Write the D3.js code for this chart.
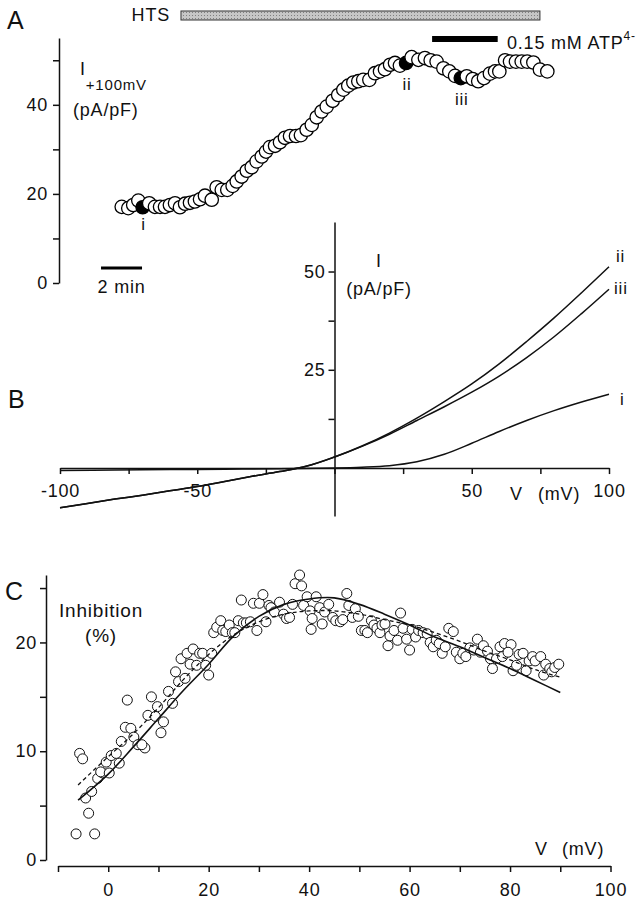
<!DOCTYPE html>
<html>
<head>
<meta charset="utf-8">
<script src="https://cdn.jsdelivr.net/npm/d3@7"></script>
<style>
body { margin: 0; background: #fff; }
svg text { font-family: "Liberation Sans", Arial, sans-serif; fill: #111; letter-spacing: 0.8px; }
</style>
</head>
<body>
<svg id="fig" width="643" height="900"></svg>
<script>
// ---- panel A : current at +100 mV vs time ----
var timeMin = [3.06,3.38,3.62,3.87,4.08,4.40,4.68,4.93,5.17,5.41,5.66,5.90,6.15,6.39,6.63,6.88,7.12,7.45,7.69,7.94,
  8.21,8.47,8.67,8.91,9.16,9.40,9.64,9.89,10.10,10.29,10.54,10.78,11.02,11.27,11.56,11.80,12.08,12.33,12.57,12.81,
  13.06,13.35,13.62,13.87,14.11,14.36,14.60,14.84,15.14,15.41,15.66,15.90,16.15,16.39,16.63,16.93,17.20,17.53,17.85,18.13,
  18.42,18.75,19.04,19.32,19.60,19.89,20.18,20.45,20.73,21.02,21.27,21.48,21.76,22.00,22.29,22.57,22.84,23.14,23.46,23.82];
var iPlus100 = [17.1,16.8,17.5,18.5,17.0,17.9,17.1,17.1,17.1,17.5,17.9,17.0,17.8,18.0,18.3,18.8,19.6,18.7,21.5,20.9,
  20.9,21.8,22.8,23.9,25.2,26.0,27.3,28.4,29.5,30.5,30.8,31.6,32.6,33.0,33.0,33.2,34.4,35.5,37.2,38.5,
  39.6,40.9,42.2,43.4,44.3,45.0,45.3,45.6,45.6,47.1,47.5,48.0,49.0,49.4,48.8,49.4,50.7,50.1,50.5,50.0,
  49.7,48.2,47.5,46.5,46.0,46.4,45.8,45.3,46.0,47.0,47.5,47.5,50.0,49.7,49.7,49.7,49.7,49.5,47.9,47.5];
var markIdx = [4, 55, 64];
var markLabels = ["i", "ii", "iii"];
var htsOn = [5.95, 23.46];   // min
var atpOn = [18.2, 21.4];    // min
var scaleBar = [2.05, 4.05]; // 2 min
var ticksA = [0, 10, 20, 30, 40, 50];

// ---- panel B : I-V curves ----
var vB = [-100,-90,-80,-70,-60,-50,-40,-30,-20,-10,0,10,20,30,40,50,60,70,80,90,100];
var curveII  = [-10.1,-9.0,-7.9,-6.9,-5.8,-4.7,-3.4,-2.1,-0.9,0.5,2.8,5.6,8.9,12.7,16.9,21.4,26.5,32.2,38.2,44.6,51.2];
var curveIII = [-10.1,-9.0,-7.9,-6.9,-5.8,-4.7,-3.4,-2.1,-0.9,0.5,2.8,5.5,8.6,12.1,15.6,19.3,23.4,28.1,33.4,39.3,45.5];
var vBi = [-100,-80,-60,-40,-20,0,10,20,30,40,50,60,70,80,90,100];
var curveI = [-0.6,-0.5,-0.4,-0.3,-0.2,0.0,0.2,0.6,1.6,3.5,6.3,9.3,12.1,14.6,16.8,18.8];
var ticksBx = [-100,-75,-50,-25,0,25,50,75,100];
var ticksBy = [12.5, 25, 37.5, 50];

// ---- panel C : inhibition vs voltage ----
var vC = [-6.4,-2.7,-3.9,-4.5,-3.3,-5.7,-5.1,-2.1,-1.1,-1.5,-0.4,0.2,0.6,1.6,2.2,2.6,3.4,3.8,4.5,5.1,
  5.9,7.3,6.7,7.9,8.6,9.4,9.8,10.5,11.0,12.0,12.8,13.4,14.0,14.5,15.3,15.7,16.3,16.9,17.6,18.2,
  18.8,19.4,20.0,20.6,21.0,21.6,22.4,22.8,23.4,24.1,24.7,25.2,25.9,26.5,26.9,27.5,28.3,28.9,29.6,30.1,
  30.8,31.4,32.0,32.4,33.1,34.1,34.9,35.5,36.1,36.7,37.2,38.1,38.5,38.9,39.6,40.2,40.6,40.4,41.4,42.1,
  42.6,43.1,43.9,44.7,45.3,46.2,46.7,47.5,47.9,48.6,49.2,49.8,50.4,51.1,51.6,52.4,52.9,53.5,54.1,54.5,
  55.1,55.7,56.1,56.9,57.6,58.2,58.7,59.4,60.0,60.5,61.2,61.8,62.7,63.5,64.1,64.7,65.3,65.9,66.5,67.1,
  67.8,68.7,69.3,70.0,70.6,71.2,72.0,72.8,73.5,74.1,74.7,75.5,76.1,76.5,77.3,78.0,78.5,78.9,80.2,79.6,
  80.6,81.3,81.8,82.6,83.2,83.8,84.5,85.0,86.1,86.7,87.1,87.9,88.3,88.9,89.7];
var inhib = [2.4,2.4,4.3,5.7,6.3,9.8,9.3,7.5,8.0,8.1,9.0,8.0,9.6,9.8,8.9,10.9,12.2,14.7,12.1,11.3,
  10.6,10.3,10.6,13.3,15.0,13.2,14.1,11.7,12.7,15.5,14.4,17.3,16.4,18.5,16.7,19.0,18.0,19.4,17.9,19.0,
  19.0,17.9,17.0,19.0,20.9,21.4,22.0,21.1,21.0,21.6,20.9,20.9,22.0,23.9,21.8,21.8,21.9,23.6,21.1,23.6,
  24.4,21.9,23.4,23.2,22.8,23.7,22.6,22.2,22.3,23.5,25.4,26.2,25.2,23.4,24.2,22.9,22.2,21.2,24.2,23.2,
  21.7,22.8,23.5,22.3,22.0,21.9,22.1,24.5,23.4,22.3,23.1,22.4,21.1,21.1,20.9,22.0,21.6,21.3,20.9,21.6,
  21.7,19.7,20.6,21.1,20.2,22.7,21.3,20.3,19.3,21.2,20.5,21.1,20.9,20.8,20.0,19.6,20.2,19.9,19.0,19.6,
  21.3,21.0,19.1,18.5,19.0,18.7,19.5,19.3,20.3,19.1,19.7,19.2,18.5,17.6,18.5,19.6,18.7,19.9,19.8,19.1,
  17.4,17.9,18.9,19.0,17.4,18.3,18.7,18.3,18.7,17.0,18.0,17.6,17.3,17.7,18.0];
var vFit = [-6,0,5,10,15,20,25,30,35,40,45,50,55,60,65,70,75,80,85,90];
var fitSolid  = [5.5,7.9,10.4,13.0,15.6,18.0,20.6,22.4,23.5,24.0,24.1,23.5,22.6,21.6,20.5,19.6,18.6,17.6,16.5,15.4];
var fitDashed = [6.9,9.5,11.6,14.0,16.6,18.9,20.7,21.9,22.6,22.9,22.9,22.6,22.1,21.6,20.9,20.1,19.2,18.4,17.5,16.8];
var ticksCx = [-10,0,10,20,30,40,50,60,70,80,90,100];
var ticksCy = [0, 5, 10, 15, 20, 25];

var svg = d3.select("#fig");

function label(x, y, s, size, anchor) {
  return svg.append("text")
    .attr("x", x).attr("y", y)
    .attr("font-size", size)
    .attr("text-anchor", anchor || "start")
    .text(s);
}

function styleAxis(g) {
  g.selectAll("path, line").attr("stroke", "#111").attr("stroke-width", 1.5);
  g.selectAll("text").attr("font-size", 18).attr("fill", "#111")
    .attr("font-family", '"Liberation Sans", Arial, sans-serif');
}

// ================= A =================
var xA = d3.scaleLinear().domain([0, 25]).range([59, 571.5]);
var yA = d3.scaleLinear().domain([0, 55]).range([283, 38]);

label(7, 29, "A", 25);
label(170, 21, "HTS", 18, "end");

var defs = svg.append("defs");
var pat = defs.append("pattern").attr("id", "stip")
  .attr("width", 3).attr("height", 3).attr("patternUnits", "userSpaceOnUse");
pat.append("rect").attr("width", 3).attr("height", 3).attr("fill", "#c6c6c6");
pat.append("rect").attr("width", 1).attr("height", 1).attr("fill", "#808080");

svg.append("rect")
  .attr("x", xA(htsOn[0])).attr("y", 11)
  .attr("width", xA(htsOn[1]) - xA(htsOn[0])).attr("height", 9)
  .attr("fill", "url(#stip)").attr("stroke", "#333").attr("stroke-width", 1);

svg.append("rect")
  .attr("x", xA(atpOn[0])).attr("y", 36)
  .attr("width", xA(atpOn[1]) - xA(atpOn[0])).attr("height", 6)
  .attr("fill", "#000");

var atpTxt = label(507, 49, "0.15 mM ATP", 18);
atpTxt.append("tspan").attr("dy", -9).attr("font-size", 12).text("4-");

var gAy = svg.append("g").attr("transform", "translate(59,0)")
  .call(d3.axisLeft(yA).tickValues(ticksA).tickSize(6).tickSizeOuter(0).tickPadding(5)
    .tickFormat(function(d) { return d % 20 === 0 ? d : ""; }));
styleAxis(gAy);

var iLab = label(80, 75, "I", 18);
iLab.append("tspan").attr("dy", 15).attr("font-size", 15).text("+100mV");
label(73, 116, "(pA/pF)", 18);

svg.append("line")
  .attr("x1", xA(scaleBar[0])).attr("x2", xA(scaleBar[1]))
  .attr("y1", 268).attr("y2", 268)
  .attr("stroke", "#000").attr("stroke-width", 3);
label((xA(scaleBar[0]) + xA(scaleBar[1])) / 2, 293, "2 min", 18, "middle");

var ptsA = timeMin.map(function(t, i) { return { t: t, v: iPlus100[i], k: i }; });
svg.append("g").selectAll("circle").data(ptsA).enter().append("circle")
  .attr("cx", function(d) { return xA(d.t); })
  .attr("cy", function(d) { return yA(d.v); })
  .attr("r", 6.7)
  .attr("fill", function(d) { return markIdx.indexOf(d.k) >= 0 ? "#000" : "#fff"; })
  .attr("stroke", "#000").attr("stroke-width", 1.3);

markIdx.forEach(function(k, j) {
  label(xA(timeMin[k]) + 1, yA(iPlus100[k]) + (j === 0 ? 23 : 27), markLabels[j], 17, "middle");
});

// ================= B =================
var xB = d3.scaleLinear().domain([-100, 100]).range([60, 609]);
var yB = d3.scaleLinear().domain([-12.2, 62.6]).range([516, 222]);

label(8, 408, "B", 25);

var gBx = svg.append("g").attr("transform", "translate(0," + yB(0) + ")")
  .call(d3.axisBottom(xB).tickValues(ticksBx).tickSize(6).tickSizeOuter(0).tickPadding(10)
    .tickFormat(function(d) { return (d === 0 || Math.abs(d) === 25 || Math.abs(d) === 75) ? "" : d; }));
styleAxis(gBx);

var gBy = svg.append("g").attr("transform", "translate(" + xB(0) + ",0)")
  .call(d3.axisLeft(yB).tickValues(ticksBy).tickSize(6).tickSizeOuter(0).tickPadding(3)
    .tickFormat(function(d) { return d % 25 === 0 ? d : ""; }));
styleAxis(gBy);

label(379, 267, "I", 18, "middle");
label(379, 295, "(pA/pF)", 18, "middle");
label(510, 500, "V", 18);
label(538, 500, "(mV)", 18);

var lineB = d3.line().curve(d3.curveCatmullRom.alpha(0.5))
  .x(function(d) { return xB(d[0]); })
  .y(function(d) { return yB(d[1]); });

[[vB, curveII], [vB, curveIII], [vBi, curveI]].forEach(function(c) {
  svg.append("path")
    .datum(d3.zip(c[0], c[1]))
    .attr("d", lineB)
    .attr("fill", "none").attr("stroke", "#111").attr("stroke-width", 1.5);
});

label(616, 262, "ii", 17);
label(614, 294, "iii", 17);
label(620, 405, "i", 17);

// ================= C =================
var xC = d3.scaleLinear().domain([-10, 100]).range([58, 610.5]);
var yC = d3.scaleLinear().domain([0, 26.2]).range([860, 575]);

label(5, 600, "C", 25);

var gCy = svg.append("g").attr("transform", "translate(46,0)")
  .call(d3.axisLeft(yC).tickValues(ticksCy).tickSize(6).tickSizeOuter(0).tickPadding(3)
    .tickFormat(function(d) { return d % 10 === 0 ? d : ""; }));
styleAxis(gCy);

var gCx = svg.append("g").attr("transform", "translate(0,866)")
  .call(d3.axisBottom(xC).tickValues(ticksCx).tickSize(6).tickSizeOuter(0).tickPadding(11)
    .tickFormat(function(d) { return d >= 0 && d % 20 === 0 ? d : ""; }));
styleAxis(gCx);

label(59, 617, "Inhibition", 19);
label(85, 642, "(%)", 19);
label(535, 855, "V", 18);
label(562, 855, "(mV)", 18);

var lineC = d3.line().curve(d3.curveCatmullRom.alpha(0.5))
  .x(function(d) { return xC(d[0]); })
  .y(function(d) { return yC(d[1]); });

svg.append("g").selectAll("circle").data(d3.zip(vC, inhib)).enter().append("circle")
  .attr("cx", function(d) { return xC(d[0]); })
  .attr("cy", function(d) { return yC(d[1]); })
  .attr("r", 5)
  .attr("fill", "#fff").attr("stroke", "#111").attr("stroke-width", 1);

svg.append("path").datum(d3.zip(vFit, fitDashed)).attr("d", lineC)
  .attr("fill", "none").attr("stroke", "#111").attr("stroke-width", 1.3)
  .attr("stroke-dasharray", "4,3");
svg.append("path").datum(d3.zip(vFit, fitSolid)).attr("d", lineC)
  .attr("fill", "none").attr("stroke", "#111").attr("stroke-width", 1.6);
</script>
</body>
</html>
